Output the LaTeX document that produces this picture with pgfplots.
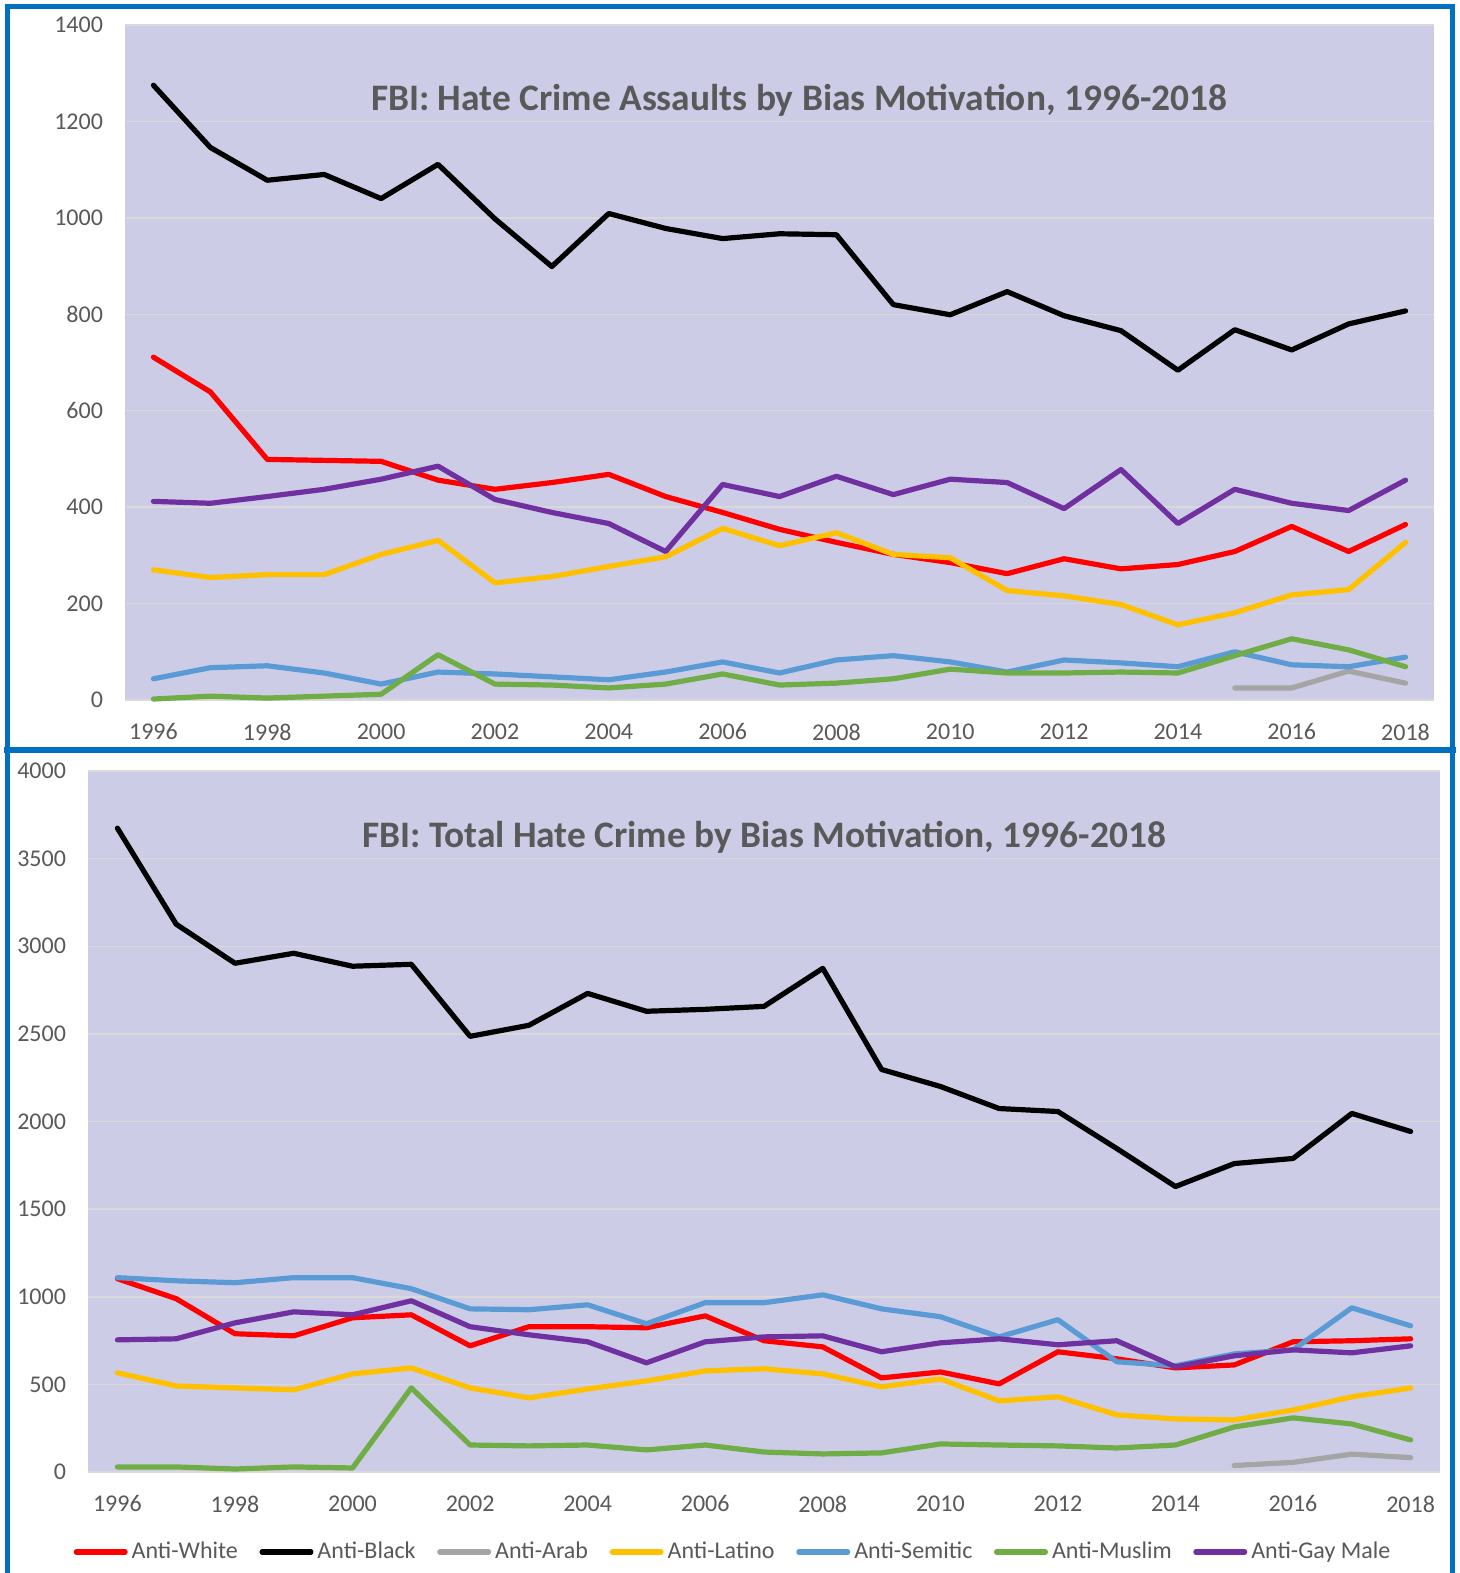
\documentclass[border=0pt]{standalone}
\usepackage{pgfplots}
\pgfplotsset{compat=1.18}
\usepackage{fontspec}
\setmainfont{Carlito}
\definecolor{cW}{RGB}{255,0,0}
\definecolor{cB}{RGB}{0,0,0}
\definecolor{cA}{RGB}{165,165,165}
\definecolor{cL}{RGB}{255,192,0}
\definecolor{cS}{RGB}{91,155,213}
\definecolor{cM}{RGB}{112,173,71}
\definecolor{cG}{RGB}{112,48,160}
\definecolor{bgc}{RGB}{204,204,230}
\definecolor{gridc}{RGB}{217,217,217}
\definecolor{txt}{RGB}{89,89,89}
\definecolor{framec}{RGB}{0,112,192}
\pgfplotsset{
 hc/.style={
  scale only axis, axis line style={draw=none}, major tick length=0pt,
  axis background/.style={fill=bgc},
  ymajorgrids, grid style={gridc, line width=0.75pt},
  xmin=1995.5, xmax=2018.5, xtick={1996,1998,...,2018},
  tick label style={font=\fontsize{12}{14}\selectfont, text=txt},
  /pgf/number format/assume math mode=true,
  /pgf/number format/1000 sep={},
  yticklabel style={xshift=-7.5pt},
  xticklabel style={yshift=-8.3pt},
  every axis plot/.append style={line width=2.6pt, line join=round, line cap=round},
  clip=false,
 }
}
\begin{document}
\begin{tikzpicture}
\useasboundingbox (0,0) rectangle (730pt,-786.5pt);
\fill[white] (0,0) rectangle (730pt,-786.5pt);
% top chart
\begin{axis}[hc, at={(62.5pt,-12.5pt)}, anchor=north west, width=654.5pt, height=337.5pt,
  ymin=0, ymax=1400, ytick={0,200,...,1400}]
\addplot[cW] coordinates {(1996,711)(1997,639)(1998,499)(1999,497)(2000,495)(2001,456)(2002,437)(2003,451)(2004,468)(2005,422)(2006,389)(2007,354)(2008,327)(2009,302)(2010,285)(2011,262)(2012,293)(2013,272)(2014,281)(2015,308)(2016,360)(2017,308)(2018,364)};
\addplot[cB] coordinates {(1996,1275)(1997,1146)(1998,1078)(1999,1090)(2000,1040)(2001,1111)(2002,998)(2003,899)(2004,1009)(2005,978)(2006,957)(2007,967)(2008,965)(2009,820)(2010,799)(2011,847)(2012,797)(2013,766)(2014,684)(2015,768)(2016,726)(2017,780)(2018,807)};
\addplot[cA] coordinates {(2015,25)(2016,25)(2017,60)(2018,35)};
\addplot[cL] coordinates {(1996,270)(1997,254)(1998,260)(1999,260)(2000,302)(2001,331)(2002,243)(2003,256)(2004,277)(2005,297)(2006,356)(2007,320)(2008,347)(2009,302)(2010,295)(2011,227)(2012,216)(2013,198)(2014,156)(2015,181)(2016,218)(2017,229)(2018,327)};
\addplot[cS] coordinates {(1996,44)(1997,67)(1998,71)(1999,56)(2000,33)(2001,58)(2002,54)(2003,48)(2004,42)(2005,58)(2006,79)(2007,56)(2008,83)(2009,92)(2010,79)(2011,58)(2012,83)(2013,77)(2014,69)(2015,100)(2016,73)(2017,69)(2018,89)};
\addplot[cM] coordinates {(1996,2)(1997,8)(1998,4)(1999,8)(2000,12)(2001,94)(2002,33)(2003,31)(2004,25)(2005,33)(2006,54)(2007,31)(2008,35)(2009,44)(2010,64)(2011,56)(2012,56)(2013,58)(2014,56)(2015,92)(2016,127)(2017,104)(2018,69)};
\addplot[cG] coordinates {(1996,412)(1997,408)(1998,422)(1999,437)(2000,458)(2001,485)(2002,416)(2003,389)(2004,366)(2005,308)(2006,447)(2007,422)(2008,464)(2009,426)(2010,458)(2011,451)(2012,397)(2013,478)(2014,366)(2015,437)(2016,408)(2017,393)(2018,456)};
\node[font=\bfseries\fontsize{18.7}{22}\selectfont, text=txt] at (rel axis cs:0.515,0.889) {FBI: Hate Crime Assaults by Bias Motivation, 1996-2018};
\end{axis}
% bottom chart
\begin{axis}[hc, at={(44pt,-385.5pt)}, anchor=north west, width=676pt, height=350.5pt,
  ymin=0, ymax=4000, ytick={0,500,...,4000},
  legend columns=7,
  legend image code/.code={\path (0pt,0pt) (24.5pt,0pt); \draw[#1] (1.3pt,0pt) -- (25.7pt,0pt);},
  legend style={at={(axis description cs:-0.0125,-0.114)}, anchor=west, draw=none, fill=none,
    inner sep=0pt, outer sep=0pt, font=\fontsize{12}{14}\selectfont, text=txt,
    column sep=0pt, /tikz/every even column/.append style={column sep=7.5pt},
    nodes={inner sep=2pt}},
  legend cell align=left]
\addplot[cW] coordinates {(1996,1103)(1997,989)(1998,789)(1999,777)(2000,880)(2001,897)(2002,720)(2003,829)(2004,829)(2005,823)(2006,891)(2007,749)(2008,714)(2009,537)(2010,571)(2011,503)(2012,686)(2013,646)(2014,594)(2015,611)(2016,743)(2017,749)(2018,760)};
\addplot[cB] coordinates {(1996,3674)(1997,3126)(1998,2903)(1999,2960)(2000,2886)(2001,2897)(2002,2486)(2003,2549)(2004,2731)(2005,2629)(2006,2640)(2007,2657)(2008,2874)(2009,2297)(2010,2200)(2011,2074)(2012,2057)(2013,1846)(2014,1629)(2015,1760)(2016,1789)(2017,2046)(2018,1943)};
\addplot[cA] coordinates {(2015,37)(2016,55)(2017,102)(2018,82)};
\addplot[cL] coordinates {(1996,566)(1997,491)(1998,480)(1999,469)(2000,560)(2001,594)(2002,480)(2003,423)(2004,474)(2005,520)(2006,577)(2007,589)(2008,560)(2009,486)(2010,531)(2011,406)(2012,429)(2013,326)(2014,303)(2015,297)(2016,354)(2017,429)(2018,480)};
\addplot[cS] coordinates {(1996,1109)(1997,1091)(1998,1080)(1999,1109)(2000,1109)(2001,1046)(2002,931)(2003,926)(2004,954)(2005,846)(2006,966)(2007,966)(2008,1011)(2009,931)(2010,886)(2011,771)(2012,869)(2013,629)(2014,606)(2015,674)(2016,697)(2017,937)(2018,834)};
\addplot[cM] coordinates {(1996,29)(1997,29)(1998,17)(1999,29)(2000,23)(2001,480)(2002,154)(2003,149)(2004,154)(2005,126)(2006,154)(2007,114)(2008,103)(2009,109)(2010,160)(2011,154)(2012,149)(2013,137)(2014,154)(2015,257)(2016,309)(2017,274)(2018,183)};
\addplot[cG] coordinates {(1996,754)(1997,760)(1998,851)(1999,914)(2000,897)(2001,977)(2002,829)(2003,783)(2004,743)(2005,623)(2006,743)(2007,771)(2008,777)(2009,686)(2010,737)(2011,760)(2012,726)(2013,749)(2014,600)(2015,663)(2016,697)(2017,680)(2018,720)};
\legend{Anti-White,Anti-Black,Anti-Arab,Anti-Latino,Anti-Semitic,Anti-Muslim,Anti-Gay Male}
\node[font=\bfseries\fontsize{18.7}{22}\selectfont, text=txt] at (rel axis cs:0.5,0.906) {FBI: Total Hate Crime by Bias Motivation, 1996-2018};
\end{axis}
% frames
\draw[framec, line width=2.5pt] (3.75pt,-3.2pt) rectangle (726.25pt,-375pt);
\draw[framec, line width=3.3pt] (2pt,-375pt) -- (728pt,-375pt);
\draw[framec, line width=2.5pt] (3.75pt,-375pt) -- (3.75pt,-800pt);
\draw[framec, line width=2.5pt] (726.25pt,-375pt) -- (726.25pt,-800pt);
\end{tikzpicture}
\end{document}
